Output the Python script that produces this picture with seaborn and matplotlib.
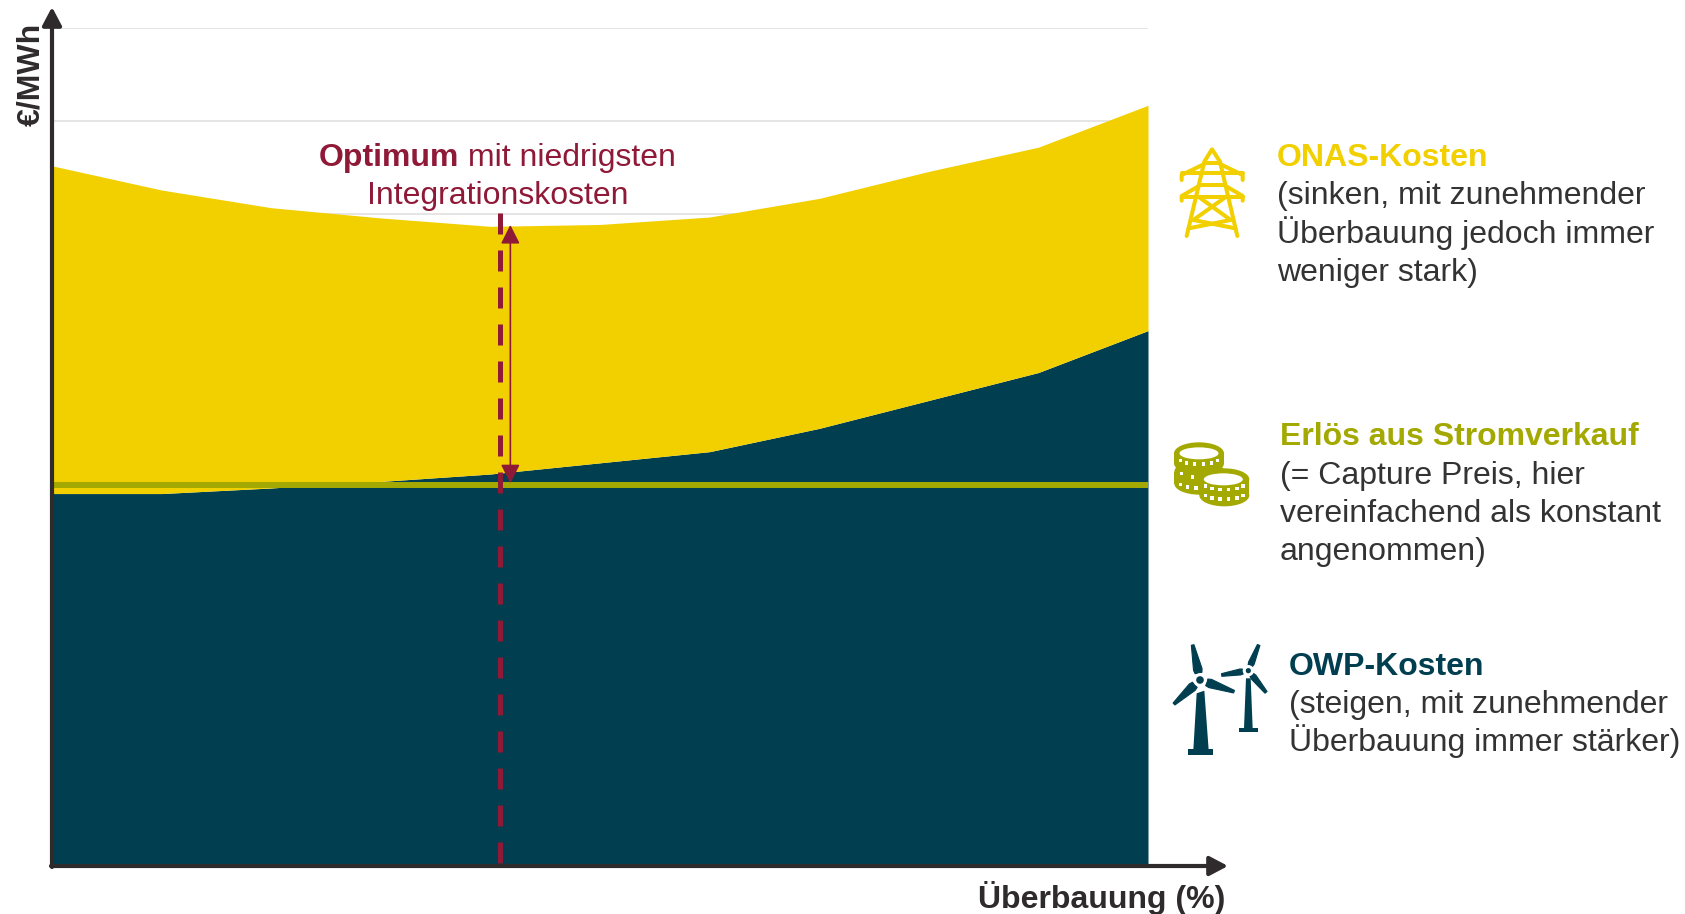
import numpy as np
import pandas as pd
import seaborn as sns
import matplotlib.pyplot as plt
from matplotlib.patches import Ellipse, Polygon, Rectangle, Circle

# Werte
ueberbauung = [0, 10, 20, 30, 40, 50, 60, 70, 80, 90, 100]
owp_kosten = [40.0, 40.0, 40.6, 41.3, 42.1, 43.3, 44.5, 47.0, 50.0, 53.0, 57.5]
onas_kosten = [35.2, 32.6, 30.1, 28.3, 26.6, 25.6, 25.2, 24.7, 24.6, 24.2, 24.2]
erloes = [40.95] * 11
optimum_x = 40.85
gitter = [70, 80, 90]

DUNKEL = '#003e50'
GELB = '#f2d000'
OLIV = '#a3a900'
ROT = '#8f1a38'
TEXT = '#333333'
ACHSE = '#2f2a2b'

sns.set_theme(style='white')
plt.rcParams['font.family'] = ['Liberation Sans', 'DejaVu Sans']

df = pd.DataFrame({'x': ueberbauung, 'owp': owp_kosten, 'onas': onas_kosten, 'erloes': erloes})

W, H = 1685, 914
fig = plt.figure(figsize=(W / 100, H / 100), dpi=100)
ax = fig.add_axes([52 / W, 1 - 866 / H, (1148 - 52) / W, (866 - 28) / H])

ax.stackplot(df['x'], df['owp'], df['onas'], colors=[DUNKEL, GELB], linewidth=0, zorder=2)
sns.lineplot(data=df, x='x', y='erloes', color=OLIV, linewidth=4.3, ax=ax, zorder=3)
ax.set_xlim(0, 100)
ax.set_ylim(0, 90)
ax.set_yticks(gitter)
ax.set_xticks([])
ax.set_xlabel('')
ax.set_ylabel('')
ax.tick_params(left=False, labelleft=False)
ax.grid(axis='y', color='#e2e0df', linewidth=1.2)
ax.set_axisbelow(True)
sns.despine(ax=ax, left=True, bottom=True, top=True, right=True)

# Optimum: gestrichelte Linie und Doppelpfeil
ax.plot([optimum_x, optimum_x], [70.1, 0], color=ROT, linewidth=3.6,
        dashes=(4.2, 3.2), dash_capstyle='butt', zorder=4)
ax.annotate('', xy=(optimum_x + 0.97, 68.85), xytext=(optimum_x + 0.97, 41.1),
            arrowprops=dict(arrowstyle='<|-|>,head_length=11.5,head_width=5.8', mutation_scale=1,
                            color=ROT, linewidth=1.2, shrinkA=0, shrinkB=0), zorder=5)

# Overlay in Pixelkoordinaten fuer Achsenpfeile, Text und Icons
ov = fig.add_axes([0, 0, 1, 1], facecolor='none')
ov.set_xlim(0, W)
ov.set_ylim(H, 0)
ov.axis('off')

pfeil = dict(arrowstyle='-|>,head_length=11,head_width=5.8', mutation_scale=1, color=ACHSE,
             linewidth=3, shrinkA=0, shrinkB=0)
ov.annotate('', xy=(52, 7), xytext=(52, 867), arrowprops=pfeil)
ov.annotate('', xy=(1228, 866), xytext=(51, 866), arrowprops=pfeil)

FS = 23
ov.text(1225, 908, 'Überbauung (%)', ha='right', va='baseline', fontsize=FS, fontweight='bold', color=ACHSE)
ov.text(46, 74, '€/MWh', rotation=90, ha='right', va='center', fontsize=FS, fontweight='bold', color=ACHSE)


def block(x, ys, titel, farbe, zeilen):
    ov.text(x, ys[0], titel, fontsize=FS, fontweight='bold', color=farbe, va='baseline')
    for y, z in zip(ys[1:], zeilen):
        ov.text(x, y, z, fontsize=FS, color=TEXT, va='baseline')


block(1277, [166, 204, 243, 281], 'ONAS-Kosten', GELB,
      ['(sinken, mit zunehmender', 'Überbauung jedoch immer', 'weniger stark)'])
block(1280, [445, 484, 522, 560], 'Erlös aus Stromverkauf', OLIV,
      ['(= Capture Preis, hier', 'vereinfachend als konstant', 'angenommen)'])
block(1289, [675, 713, 751], 'OWP-Kosten', DUNKEL,
      ['(steigen, mit zunehmender', 'Überbauung immer stärker)'])

# Optimum-Beschriftung, fett + normal auf einer Zeile
r = fig.canvas.get_renderer()
t1 = ov.text(0, 166, 'Optimum', fontsize=FS, fontweight='bold', color=ROT, va='baseline')
t2 = ov.text(0, 166, ' mit niedrigsten', fontsize=FS, color=ROT, va='baseline')
w1 = t1.get_window_extent(r).width
w2 = t2.get_window_extent(r).width
start = 497.5 - (w1 + w2) / 2
t1.set_x(start)
t2.set_x(start + w1)
ov.text(497.5, 204, 'Integrationskosten', fontsize=FS, color=ROT, va='baseline', ha='center')


# Icons: Koordinaten aus den Zoom-Ausschnitten (Ursprung + Faktor 3)
def linien(ox, oy, segs, farbe, lw):
    for s in segs:
        p = np.array(s, dtype=float)
        ov.plot(ox + p[:, 0] / 3, oy + p[:, 1] / 3, color=farbe, linewidth=lw,
                solid_capstyle='round', solid_joinstyle='round')


linien(1150, 120, [
    [(110, 348), (163, 125), (186, 88), (210, 125), (262, 348)],
    [(163, 130), (210, 130)],
    [(163, 132), (95, 165), (95, 180)], [(210, 132), (278, 165), (278, 180)],
    [(95, 160), (278, 160)],
    [(152, 195), (95, 228), (95, 242)], [(222, 195), (278, 228), (278, 242)],
    [(152, 195), (222, 195)], [(95, 230), (278, 230)],
    [(148, 232), (242, 300)], [(226, 232), (130, 300)],
    [(130, 300), (256, 325)], [(242, 300), (116, 325)],
], GELB, 2.9)


def muenze(cx, cy, h, rx=25, ry=11):
    x, y = 1150 + cx / 3, 420 + cy / 3
    ov.add_patch(Rectangle((x - rx, y), 2 * rx, h, color=OLIV, linewidth=0))
    ov.add_patch(Ellipse((x, y + h), 2 * rx, 2 * ry, color=OLIV, linewidth=0))
    ov.add_patch(Ellipse((x, y), 2 * rx, 2 * ry, color=OLIV, linewidth=0))
    return x, y


def rand(x, y, h, von=0.18, bis=0.82, n=6):
    for a in np.linspace(np.pi * von, np.pi * bis, n):
        ov.add_patch(Rectangle((x + 22 * np.cos(a) - 1.7, y + h + 8.6 * np.sin(a) - 1.7), 3.4, 3.4,
                               color='white', linewidth=0))


hx, hy = muenze(148, 155, 12)
rand(hx, hy, 8, 0.55, 0.82, 3)
rand(hx, hy, -3, 0.6, 0.8, 2)
ox_, oy_ = muenze(147, 100, 10)
ov.add_patch(Ellipse((ox_, oy_), 39, 12, color='white', linewidth=0))
rand(ox_, oy_, 2.4)
vx, vy = muenze(223, 178, 16)
ov.add_patch(Ellipse((vx - 1, vy), 39, 12, color='white', linewidth=0))
rand(vx, vy, 2)
rand(vx, vy, 11.4)


def fluegel(hub, tip, b):
    hub, tip = np.array(hub, dtype=float), np.array(tip, dtype=float)
    d = tip - hub
    n = np.array([-d[1], d[0]]) / np.linalg.norm(d)
    pts = [hub + d * 0.2 + n * 0.4 * b, hub + d * 0.3 + n * 0.5 * b, tip + n * 4,
           tip - n * 4, hub + d * 0.3 - n * 0.5 * b, hub + d * 0.2 - n * 0.4 * b]
    pts = np.array(pts) / 3 + np.array([1150, 630])
    ov.add_patch(Polygon(pts, closed=True, color=DUNKEL, linewidth=0.8, joinstyle='round'))


def turbine(hub, tips, turm, sockel, rad, b):
    for tip in tips:
        fluegel(hub, tip, b)
    ov.add_patch(Polygon(np.array(turm) / 3 + np.array([1150, 630]), closed=True, color=DUNKEL, linewidth=0))
    x0, y0, x1, y1 = sockel
    ov.add_patch(Rectangle((1150 + x0 / 3, 630 + y0 / 3), (x1 - x0) / 3, (y1 - y0) / 3, color=DUNKEL, linewidth=0))
    c = (1150 + hub[0] / 3, 630 + hub[1] / 3)
    ov.add_patch(Circle(c, rad + 3, color='white', linewidth=0))
    ov.add_patch(Circle(c, rad, color=DUNKEL, linewidth=0))


turbine((150, 150), [(128, 45), (252, 185), (72, 222)],
        [(140, 190), (163, 182), (176, 360), (130, 360)], (115, 358, 190, 374), 3.8, 26)
turbine((295, 122), [(326, 45), (215, 135), (348, 187)],
        [(288, 145), (302, 145), (308, 295), (282, 295)], (268, 295, 323, 305), 2.6, 18)

fig.savefig('out.png', dpi=100)
plt.close(fig)
